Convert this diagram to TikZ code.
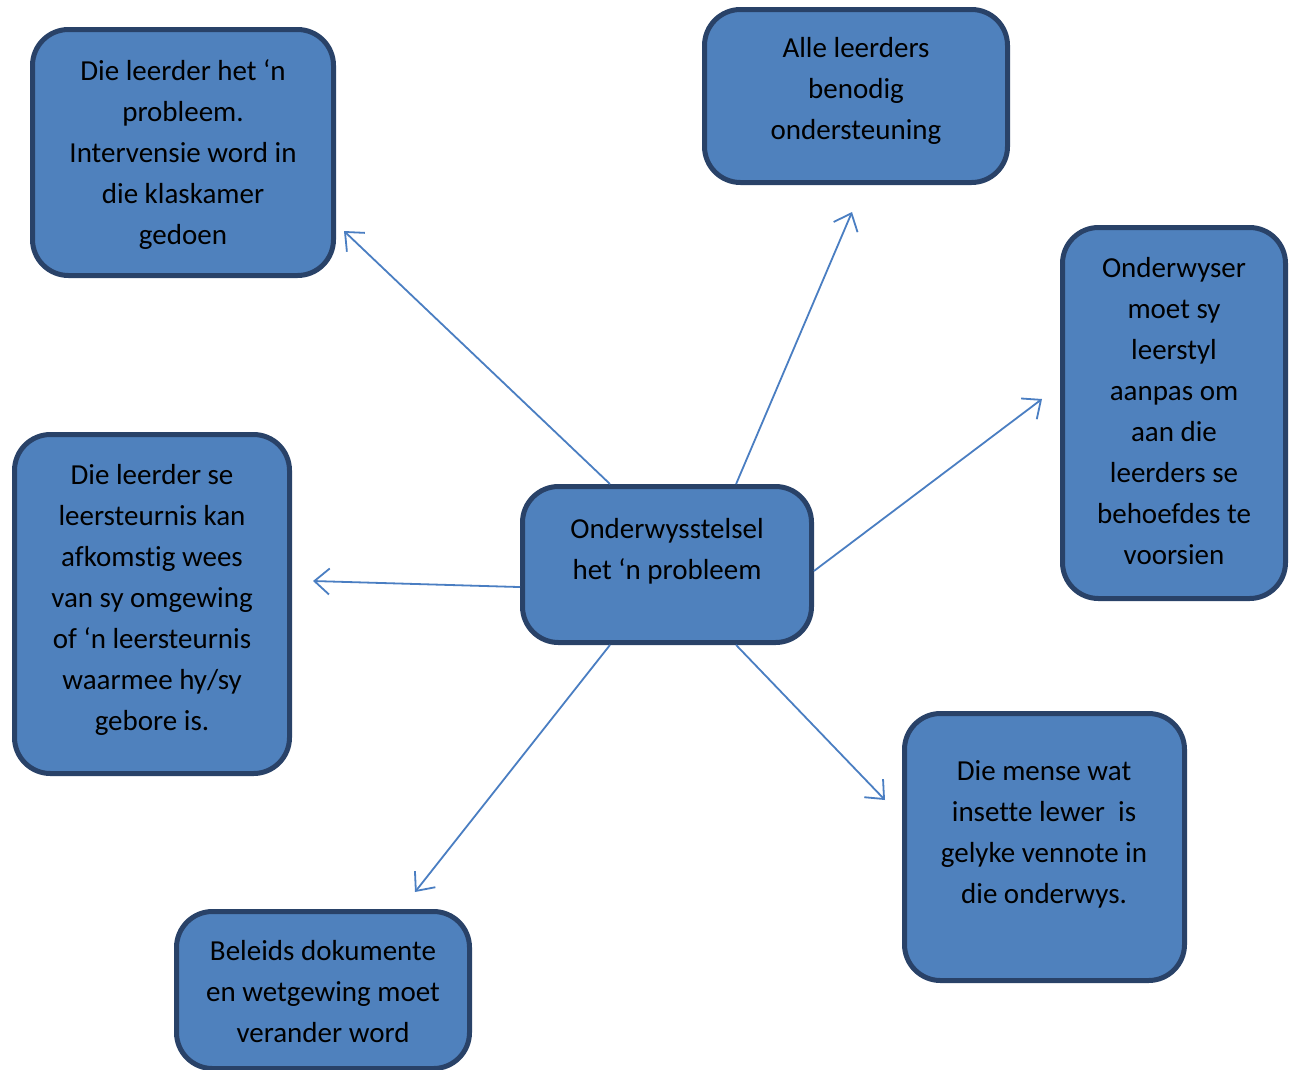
\documentclass[tikz,border=0pt]{standalone}
\usepackage{fontspec}
\setmainfont{Carlito}[Ligatures={NoCommon}]
\usetikzlibrary{arrows.meta,calc}
\definecolor{boxfill}{HTML}{4F81BD}
\definecolor{boxline}{HTML}{294268}
\definecolor{linkline}{HTML}{4A7EC2}
\tikzset{
  card/.style={draw=boxline, fill=boxfill, line width=5pt, rounded corners=36pt,
    rectangle, inner sep=0pt, outer sep=2.5pt},
  cardtext/.style={align=center, inner sep=0pt, text=black,
    font=\fontsize{29}{41}\selectfont},
  link/.style={draw=linkline, line width=1.8pt,
    -{Straight Barb[length=15pt,width=26pt,line width=1.8pt]}},
}
\begin{document}
\begin{tikzpicture}[x=1pt,y=-1pt]
\clip (0,0) rectangle (1295,1069);
\fill[white] (0,0) rectangle (1295,1069);

% boxes
\node[card, minimum width=301pt, minimum height=246pt] (b1) at (183,152.5) {};
\node[card, minimum width=303pt, minimum height=173pt] (b2) at (856,96) {};
\node[card, minimum width=223pt, minimum height=371pt] (b3) at (1174,413) {};
\node[card, minimum width=275pt, minimum height=339pt] (b4) at (152,604) {};
\node[card, minimum width=289pt, minimum height=156pt] (c) at (667,564.5) {};
\node[card, minimum width=280pt, minimum height=267pt] (b6) at (1044.5,847) {};
\node[card, minimum width=293pt, minimum height=157pt] (b7) at (323,990) {};

% texts
\node[cardtext] (t1) at (183,154.5) {Die leerder het ‘n\\probleem.\\Intervensie word in\\die klaskamer\\gedoen};
\node[cardtext] (t2) at (856,90.5) {Alle leerders\\benodig\\ondersteuning};
\node[cardtext] (t3) at (1174,411.5) {Onderwyser\\moet sy\\leerstyl\\aanpas om\\aan die\\leerders se\\behoefdes te\\voorsien};
\node[cardtext] (t4) at (152,600) {Die leerder se\\leersteurnis kan\\afkomstig wees\\van sy omgewing\\of ‘n leersteurnis\\waarmee hy/sy\\gebore is.};
\node[cardtext] (tc) at (667,551.5) {Onderwysstelsel\\het ‘n probleem};
\node[cardtext] (t6) at (1044,834) {Die mense wat\\insette lewer~ is\\gelyke vennote in\\die onderwys.};
\node[cardtext] (t7) at (323,991.5) {Beleids dokumente\\en wetgewing moet\\verander word};

% arrow tips
\coordinate (e1) at (344,231);
\coordinate (e2) at (852,212);
\coordinate (e3) at (1042,399);
\coordinate (e4) at (313,581);
\coordinate (e5) at (415,892);
\coordinate (e6) at (885,800);

% connectors from the centre box
\draw[link] ($(c.north west)!0.306!(c.north east)$) -- (e1);
\draw[link] ($(c.north west)!0.735!(c.north east)$) -- (e2);
\draw[link] ($(c.north east)!0.54!(c.south east)$) -- (e3);
\draw[link] ($(c.north west)!0.64!(c.south west)$) -- (e4);
\draw[link] ($(c.south west)!0.306!(c.south east)$) -- (e5);
\draw[link] ($(c.south west)!0.735!(c.south east)$) -- (e6);
\end{tikzpicture}
\end{document}
